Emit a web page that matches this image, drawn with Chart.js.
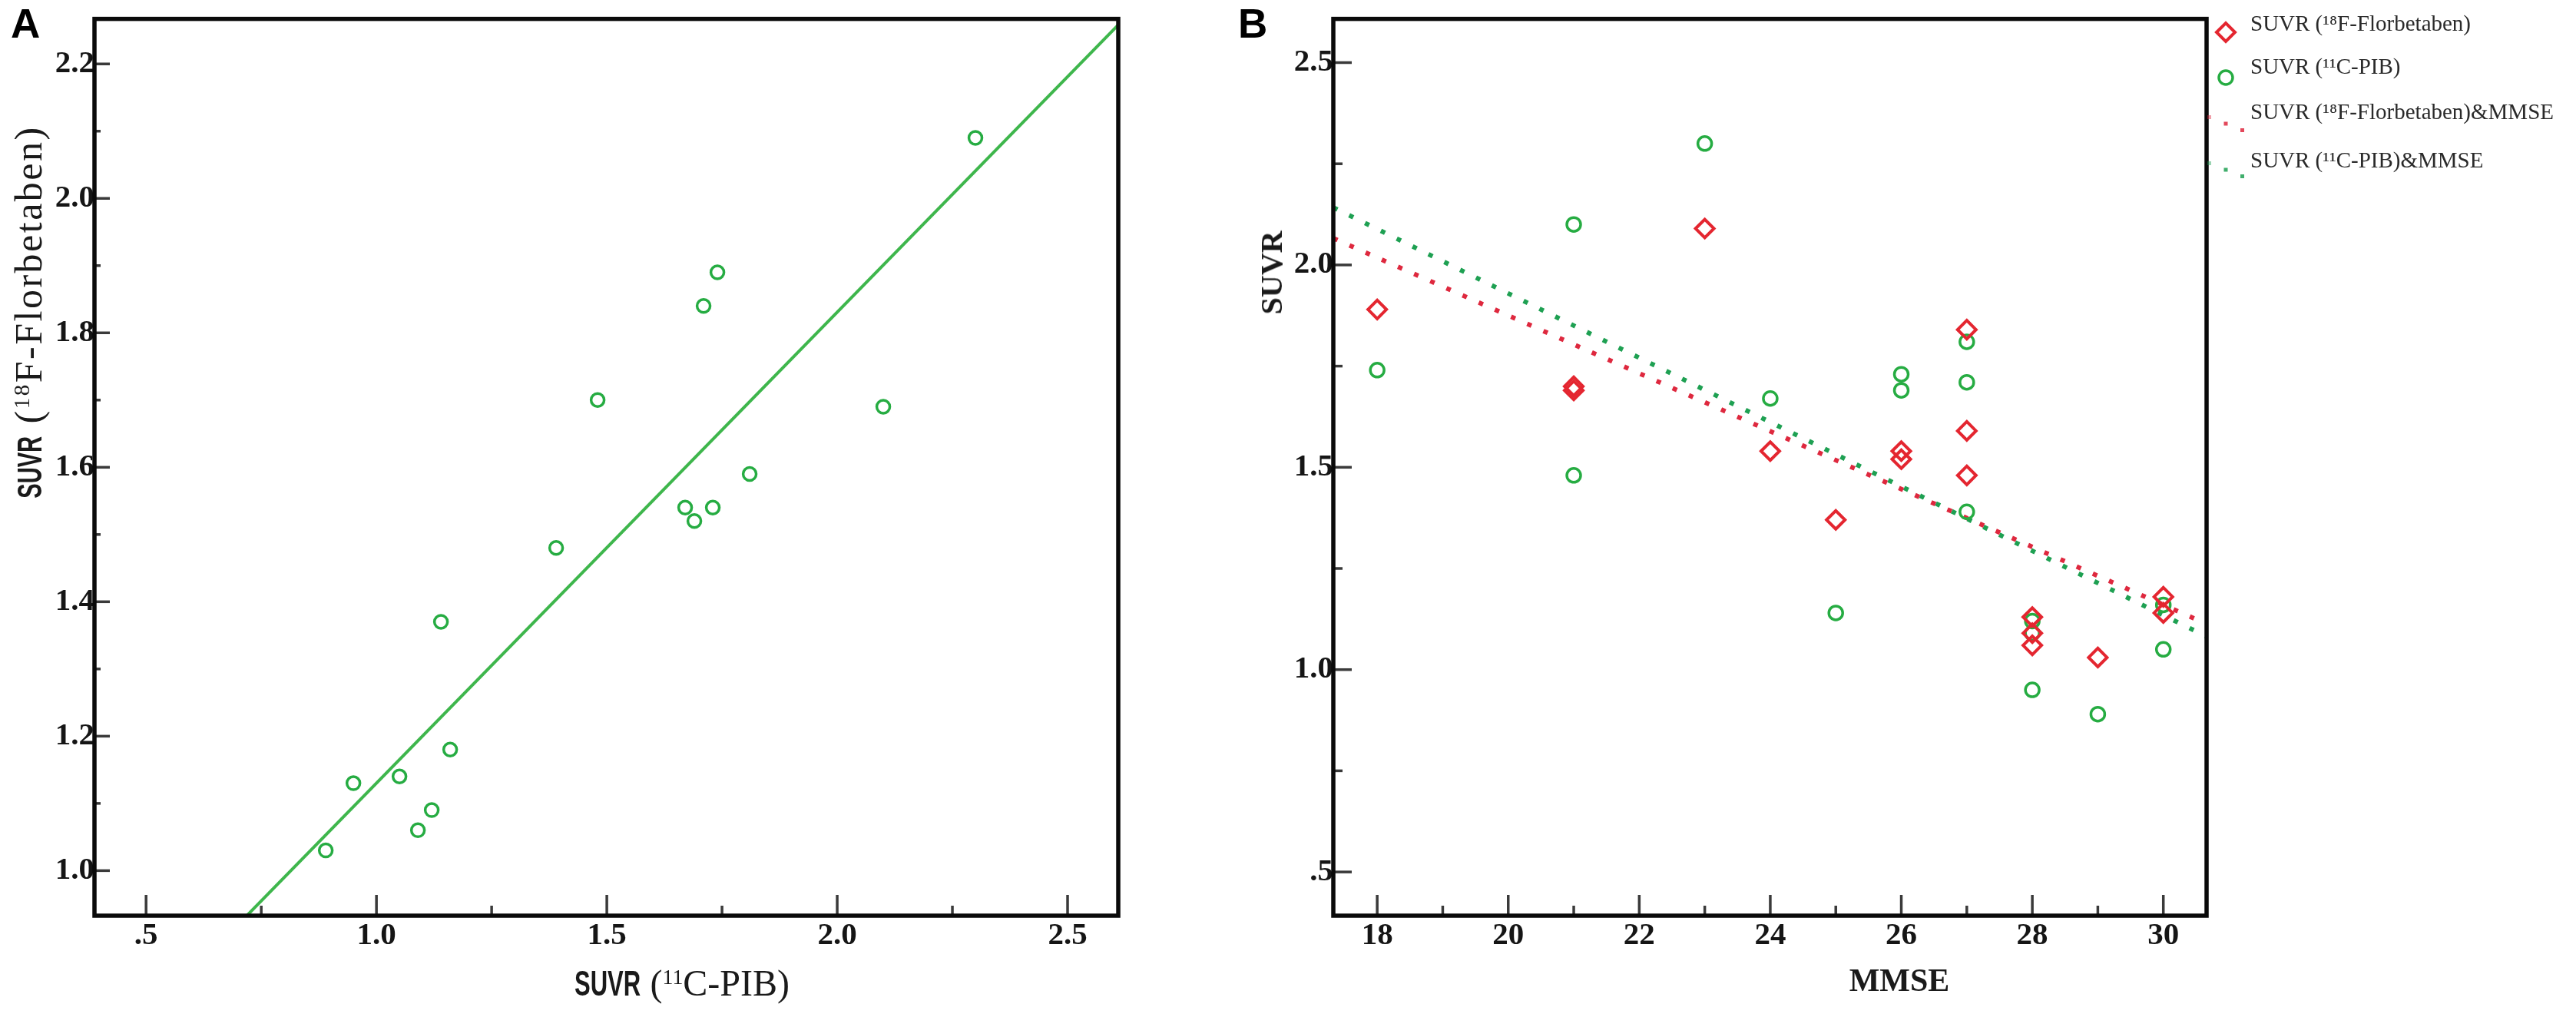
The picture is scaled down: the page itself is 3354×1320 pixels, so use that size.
<!DOCTYPE html>
<html>
<head>
<meta charset="utf-8">
<script src="https://cdn.jsdelivr.net/npm/chart.js@4.4.1/dist/chart.umd.min.js"></script>
<style>
html,body{margin:0;padding:0;background:#fff;}
#page{position:relative;width:3354px;height:1320px;overflow:hidden;background:#fff;}
.wrap{position:absolute;top:0;height:1320px;}
.t{position:absolute;white-space:nowrap;color:#1a1a1a;line-height:1;font-family:"Liberation Serif","Times New Roman",serif;}
.sv{font-family:"Liberation Sans",Arial,sans-serif;font-weight:bold;display:inline-block;transform:scaleX(0.66);transform-origin:left center;}
.sp{font-size:0.58em;vertical-align:0.55em;}
.panel{position:absolute;font-family:"Liberation Sans",Arial,sans-serif;font-weight:bold;font-size:53px;line-height:1;color:#000;}
</style>
</head>
<body>
<div id="page">
  <div class="wrap" style="left:0;width:1660px;"><canvas id="chartA"></canvas></div>
  <div class="wrap" style="left:1660px;width:1694px;"><canvas id="chartB"></canvas></div>

  <div class="panel" style="left:14px;top:4px;">A</div>
  <div class="panel" style="left:1612px;top:4px;">B</div>

  <div class="t" style="left:888px;top:1280px;transform:translate(-50%,-50%);font-size:48px;"><span class="sv" style="font-size:47px;margin-right:-44px;">SUVR</span> (<span class="sp">11</span>C-PIB)</div>
  <div class="t" style="left:37px;top:406px;transform:translate(-50%,-50%) rotate(-90deg);font-size:50px;letter-spacing:2.5px;"><span class="sv" style="font-size:44px;margin-right:-40px;letter-spacing:0;">SUVR</span> (<span class="sp">18</span>F-Florbetaben)</div>

  <div class="t" style="left:2473px;top:1276px;transform:translate(-50%,-50%);font-size:42px;font-weight:bold;">MMSE</div>
  <div class="t" style="left:1656px;top:355px;transform:translate(-50%,-50%) rotate(-90deg);font-size:40px;font-weight:bold;">SUVR</div>
</div>

<script>
// ---------- DATA ----------
const mmse    = [18, 21, 21, 23, 24, 25, 26, 26, 27, 27, 27, 28, 28, 28, 29, 30, 30];
const suvrFBB = [1.89, 1.70, 1.69, 2.09, 1.54, 1.37, 1.54, 1.52, 1.84, 1.59, 1.48, 1.13, 1.09, 1.06, 1.03, 1.18, 1.14];
const suvrPIB = [1.74, 1.48, 2.10, 2.30, 1.67, 1.14, 1.73, 1.69, 1.71, 1.81, 1.39, 0.95, 1.12, 1.09, 0.89, 1.16, 1.05];

// fitted lines (endpoints)
const fitAX = [0.72, 2.61];
const fitAY = [0.934, 2.258];
const fitBX = [17.33, 30.66];
const fitBFbbY = [2.066, 1.113];
const fitBPibY = [2.142, 1.082];

// axis ticks
const aXTicks = [0.5, 1.0, 1.5, 2.0, 2.5];
const aXTickLabels = ['.5', '1.0', '1.5', '2.0', '2.5'];
const aXMinor = [0.75, 1.25, 1.75, 2.25];
const aYTicks = [1.0, 1.2, 1.4, 1.6, 1.8, 2.0, 2.2];
const aYTickLabels = ['1.0', '1.2', '1.4', '1.6', '1.8', '2.0', '2.2'];
const aYMinor = [1.1, 1.3, 1.5, 1.7, 1.9, 2.1];
const bXTicks = [18, 20, 22, 24, 26, 28, 30];
const bXTickLabels = ['18', '20', '22', '24', '26', '28', '30'];
const bXMinor = [19, 21, 23, 25, 27, 29];
const bYTicks = [0.5, 1.0, 1.5, 2.0, 2.5];
const bYTickLabels = ['.5', '1.0', '1.5', '2.0', '2.5'];
const bYMinor = [0.75, 1.25, 1.75, 2.25];

const labelFBB = 'SUVR (\u00B9\u2078F-Florbetaben)';
const labelPIB = 'SUVR (\u00B9\u00B9C-PIB)';
const labelFBBfit = 'SUVR (\u00B9\u2078F-Florbetaben)&MMSE';
const labelPIBfit = 'SUVR (\u00B9\u00B9C-PIB)&MMSE';

// ---------- STYLE ----------
const RED = 'rgb(228,38,48)';
const GREEN = 'rgb(38,172,66)';
const GREEN_LINE = 'rgb(62,182,76)';
const RED_DOT = 'rgb(222,40,62)';
const GREEN_DOT = 'rgb(30,160,82)';
const tickFont = {family: '"Liberation Serif","Times New Roman",serif', size: 41, weight: 'bold'};

Chart.defaults.animation = false;

const framePlugin = {
  id: 'frameTicks',
  afterDraw(chart, args, o) {
    const {ctx, chartArea: a} = chart;
    const x = chart.scales.x, y = chart.scales.y;
    ctx.save();
    ctx.strokeStyle = '#3a3a3a';
    ctx.lineWidth = 3.5;
    const xt = (vals, len) => vals.forEach(v => {
      const p = x.getPixelForValue(v);
      ctx.beginPath(); ctx.moveTo(p, a.bottom); ctx.lineTo(p, a.bottom - len); ctx.stroke();
    });
    const yt = (vals, len) => vals.forEach(v => {
      const p = y.getPixelForValue(v);
      ctx.beginPath(); ctx.moveTo(a.left, p); ctx.lineTo(a.left + len, p); ctx.stroke();
    });
    xt(o.xMajor, o.xMajLen); xt(o.xMinor, o.xMinLen);
    yt(o.yMajor, o.yMajLen); yt(o.yMinor, o.yMinLen);
    ctx.strokeStyle = '#0a0a0a';
    ctx.lineWidth = 5.5;
    ctx.strokeRect(a.left, a.top, a.right - a.left, a.bottom - a.top);
    ctx.restore();
  }
};

const legendPlugin = {
  id: 'sideLegend',
  afterDraw(chart, args, o) {
    if (!o || !o.items) return;
    const ctx = chart.ctx;
    ctx.save();
    ctx.font = o.font;
    ctx.fillStyle = o.color;
    ctx.textBaseline = 'middle';
    ctx.textAlign = 'left';
    o.items.forEach(it => {
      const ds = chart.data.datasets[it.dataset];
      ctx.fillText(ds.label, o.textX, it.textY);
      if (it.kind === 'diamond') {
        const r = ds.pointRadius;
        ctx.strokeStyle = ds.borderColor; ctx.lineWidth = ds.pointBorderWidth;
        ctx.beginPath();
        ctx.moveTo(o.markX - r, it.markY); ctx.lineTo(o.markX, it.markY - r);
        ctx.lineTo(o.markX + r, it.markY); ctx.lineTo(o.markX, it.markY + r);
        ctx.closePath(); ctx.stroke();
      } else if (it.kind === 'circle') {
        ctx.strokeStyle = ds.borderColor; ctx.lineWidth = ds.pointBorderWidth;
        ctx.beginPath(); ctx.arc(o.markX, it.markY, ds.pointRadius, 0, Math.PI * 2); ctx.stroke();
      } else if (it.kind === 'dots') {
        ctx.fillStyle = ds.borderColor;
        const n = 3, dx = 21.5, dy = 8.5, s = 5;
        for (let k = 0; k < n; k++) {
          ctx.globalAlpha = k === 0 ? 0.45 : 0.85;
          ctx.fillRect(o.markX - dx + k * dx - s / 2, it.markY - dy + k * dy - s / 2, s, s);
        }
        ctx.globalAlpha = 1;
        ctx.fillStyle = o.color;
      }
    });
    ctx.restore();
  }
};

function axis(min, max, ticks, labels, size, isX, pad) {
  return {
    type: 'linear', min: min, max: max,
    grid: {display: false, drawTicks: false},
    border: {display: false},
    afterBuildTicks: s => { s.ticks = ticks.map(v => ({value: v})); },
    afterFit: s => { if (isX) s.height = size; else s.width = size; },
    ticks: {
      font: tickFont, color: '#151515', padding: pad, autoSkip: false, maxRotation: 0,
      callback: (v, i) => labels[i]
    }
  };
}

// ---------- PANEL A ----------
new Chart(document.getElementById('chartA'), {
  type: 'scatter',
  data: {
    datasets: [
      {
        label: 'points',
        data: suvrPIB.map((v, i) => ({x: v, y: suvrFBB[i]})),
        pointStyle: 'circle', pointRadius: 8.5, pointBorderWidth: 3.5,
        borderColor: GREEN, backgroundColor: 'rgba(0,0,0,0)', order: 1
      },
      {
        label: 'fit',
        data: fitAX.map((v, i) => ({x: v, y: fitAY[i]})),
        showLine: true, pointRadius: 0, borderWidth: 4,
        borderColor: GREEN_LINE, order: 2
      }
    ]
  },
  options: {
    responsive: true, maintainAspectRatio: false, devicePixelRatio: 1,
    layout: {padding: {left: 0, top: 15, right: 204, bottom: 0}},
    plugins: {
      legend: {display: false}, tooltip: {enabled: false},
      frameTicks: {xMajor: aXTicks, xMinor: aXMinor, yMajor: aYTicks, yMinor: aYMinor,
                   xMajLen: 27, xMinLen: 13, yMajLen: 20, yMinLen: 8}
    },
    scales: {
      x: axis(0.388, 2.61, aXTicks, aXTickLabels, 128, true, 2),
      y: axis(0.933, 2.267, aYTicks, aYTickLabels, 123, false, 0)
    }
  },
  plugins: [framePlugin]
});

// ---------- PANEL B ----------
new Chart(document.getElementById('chartB'), {
  type: 'scatter',
  data: {
    datasets: [
      {
        label: labelFBB,
        data: mmse.map((m, i) => ({x: m, y: suvrFBB[i]})),
        pointStyle: 'rectRot', pointRadius: 12, pointBorderWidth: 4,
        borderColor: RED, backgroundColor: 'rgba(0,0,0,0)', order: 1
      },
      {
        label: labelPIB,
        data: mmse.map((m, i) => ({x: m, y: suvrPIB[i]})),
        pointStyle: 'circle', pointRadius: 9, pointBorderWidth: 3.5,
        borderColor: GREEN, backgroundColor: 'rgba(0,0,0,0)', order: 1
      },
      {
        label: labelFBBfit,
        data: fitBX.map((v, i) => ({x: v, y: fitBFbbY[i]})),
        showLine: true, pointRadius: 0, borderWidth: 6, borderDash: [6, 17],
        borderColor: RED_DOT, order: 2
      },
      {
        label: labelPIBfit,
        data: fitBX.map((v, i) => ({x: v, y: fitBPibY[i]})),
        showLine: true, pointRadius: 0, borderWidth: 6, borderDash: [6, 17],
        borderColor: GREEN_DOT, order: 2
      }
    ]
  },
  options: {
    responsive: true, maintainAspectRatio: false, devicePixelRatio: 1,
    layout: {padding: {left: 0, top: 13, right: 481, bottom: 0}},
    plugins: {
      legend: {display: false}, tooltip: {enabled: false},
      frameTicks: {xMajor: bXTicks, xMinor: bXMinor, yMajor: bYTicks, yMinor: bYMinor,
                   xMajLen: 27, xMinLen: 13, yMajLen: 24, yMinLen: 12},
      sideLegend: {
        font: '29px "Liberation Serif","Times New Roman",serif', color: '#2a2a2a',
        markX: 1238, textX: 1270,
        items: [
          {dataset: 0, kind: 'diamond', markY: 42, textY: 32},
          {dataset: 1, kind: 'circle', markY: 101, textY: 88},
          {dataset: 2, kind: 'dots', markY: 161, textY: 147},
          {dataset: 3, kind: 'dots', markY: 221, textY: 210}
        ]
      }
    },
    scales: {
      x: axis(17.33, 30.66, bXTicks, bXTickLabels, 128, true, 2),
      y: axis(0.392, 2.608, bYTicks, bYTickLabels, 76, false, 0)
    }
  },
  plugins: [framePlugin, legendPlugin]
});
</script>
</body>
</html>
